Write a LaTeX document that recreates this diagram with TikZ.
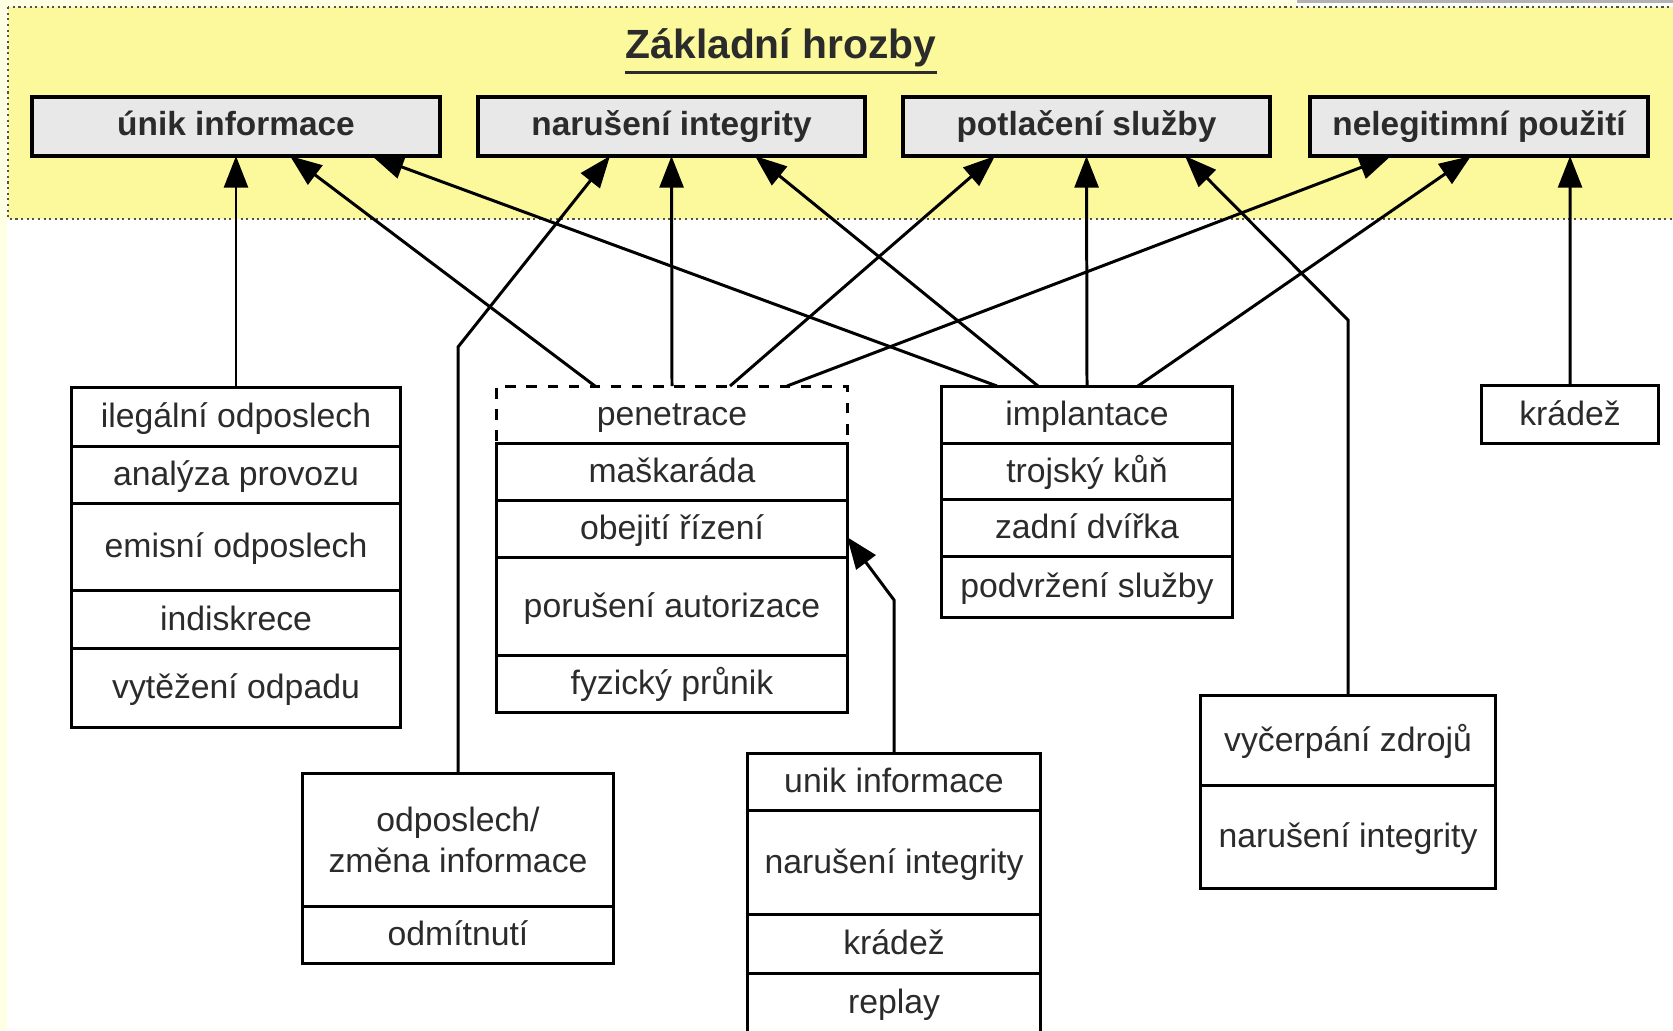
\documentclass[tikz,border=0pt]{standalone}
\usepackage{fontspec}
\setmainfont{Liberation Sans}
\usetikzlibrary{arrows.meta,positioning}
\definecolor{panel}{HTML}{FCF99C}
\definecolor{panelrim}{HTML}{505050}
\definecolor{hdr}{HTML}{E8E8E8}
\definecolor{ink}{HTML}{2B2B2B}
\definecolor{margin}{HTML}{FFFFE4}

\begin{document}
\begin{tikzpicture}[x=0.01cm,y=-0.01cm,
  topbox/.style={draw,line width=1.1pt,fill=hdr,minimum height=0.59cm,inner sep=0pt,outer sep=0pt,
    text height=7pt,text depth=2pt,font=\fontsize{9.5}{11}\selectfont\bfseries,text=ink},
  cell/.style={draw,line width=0.85pt,fill=white,inner sep=0pt,outer sep=0pt,
    text height=8.6pt,text depth=2.2pt,font=\fontsize{9.6}{11.6}\selectfont,text=ink,align=center},
  arr/.style={line width=0.85pt,-{Triangle[length=9pt,width=6.8pt]}}]
\useasboundingbox (0,0) rectangle (1673,1030);
% page edges
\fill[margin] (0,0) rectangle (7,1030);
\fill[margin] (0,0) rectangle (1297,7);
\fill[gray!60] (1297,0) rectangle (1673,3);
% yellow panel with the basic threats
\draw[panelrim,densely dotted,line width=0.6pt,fill=panel] (8,7) rectangle (1690,219);
\node[font=\fontsize{11.6}{14}\selectfont\bfseries,text=ink,inner sep=0pt] (title) at (781,48) {Základní hrozby};
\draw[ink,line width=0.9pt] ([yshift=-1.2pt]title.south west) -- ([yshift=-1.2pt]title.south east);
\node[topbox,minimum width=4.08cm] (unik) at (236,126.5) {únik informace};
\node[topbox,minimum width=3.87cm] (narus) at (671.5,126.5) {narušení integrity};
\node[topbox,minimum width=3.67cm] (potl) at (1086.5,126.5) {potlačení služby};
\node[topbox,minimum width=3.38cm] (neleg) at (1479,126.5) {nelegitimní použití};

% eavesdropping stack
\node[cell,minimum width=3.28cm,minimum height=0.59cm,anchor=north] (odp1) at (236,387) {ilegální odposlech};
\node[cell,minimum width=3.28cm,minimum height=0.57cm,below=0pt of odp1] (odp2) {analýza provozu};
\node[cell,minimum width=3.28cm,minimum height=0.87cm,below=0pt of odp2] (odp3) {emisní odposlech};
\node[cell,minimum width=3.28cm,minimum height=0.58cm,below=0pt of odp3] (odp4) {indiskrece};
\node[cell,minimum width=3.28cm,minimum height=0.79cm,below=0pt of odp4] (odp5) {vytěžení odpadu};

% penetration stack
\node[cell,dashed,minimum width=3.50cm,minimum height=0.57cm,anchor=north] (pen1) at (672,386) {penetrace};
\node[cell,minimum width=3.50cm,minimum height=0.57cm,below=0pt of pen1] (pen2) {maškaráda};
\node[cell,minimum width=3.50cm,minimum height=0.57cm,below=0pt of pen2] (pen3) {obejití řízení};
\node[cell,minimum width=3.50cm,minimum height=0.98cm,below=0pt of pen3] (pen4) {porušení autorizace};
\node[cell,minimum width=3.50cm,minimum height=0.57cm,below=0pt of pen4] (pen5) {fyzický průnik};

% implant stack
\node[cell,minimum width=2.90cm,minimum height=0.57cm,anchor=north] (imp1) at (1087,386) {implantace};
\node[cell,minimum width=2.90cm,minimum height=0.56cm,below=0pt of imp1] (imp2) {trojský kůň};
\node[cell,minimum width=2.90cm,minimum height=0.57cm,below=0pt of imp2] (imp3) {zadní dvířka};
\node[cell,minimum width=2.90cm,minimum height=0.61cm,below=0pt of imp3] (imp4) {podvržení služby};

\node[cell,minimum width=1.76cm,minimum height=0.58cm,anchor=north] (kra) at (1570,385) {krádež};

% lower stacks
\node[cell,minimum width=3.10cm,minimum height=1.33cm,text height=,text depth=,anchor=north] (ods1) at (458,773) {odposlech/\\změna informace};
\node[cell,minimum width=3.10cm,minimum height=0.57cm,below=0pt of ods1] (ods2) {odmítnutí};

\node[cell,minimum width=2.92cm,minimum height=0.57cm,anchor=north] (uni1) at (894,753) {unik informace};
\node[cell,minimum width=2.92cm,minimum height=1.04cm,below=0pt of uni1] (uni2) {narušení integrity};
\node[cell,minimum width=2.92cm,minimum height=0.59cm,below=0pt of uni2] (uni3) {krádež};
\node[cell,minimum width=2.92cm,minimum height=0.59cm,below=0pt of uni3] (uni4) {replay};

\node[cell,minimum width=2.95cm,minimum height=0.90cm,anchor=north] (vyc1) at (1348,695) {vyčerpání zdrojů};
\node[cell,minimum width=2.95cm,minimum height=1.03cm,below=0pt of vyc1] (vyc2) {narušení integrity};

% connectors
\coordinate (odsbend) at (458,347);
\coordinate (vycbend) at (1348,320);
\coordinate (unibend) at (894,600);
\draw[arr] (odp1.north) -- (unik.south);
\draw[arr] ([xshift=-0.77cm]pen1.north) -- ([xshift=0.54cm]unik.south);
\draw[arr] ([xshift=-0.90cm]imp1.north) -- ([xshift=1.36cm]unik.south);
\draw[arr] (pen1.north) -- (narus.south);
\draw[arr] (ods1.north) -- (odsbend) -- ([xshift=-0.615cm]narus.south);
\draw[arr] ([xshift=-0.49cm]imp1.north) -- ([xshift=0.835cm]narus.south);
\draw[arr] ([xshift=0.58cm]pen1.north) -- ([xshift=-0.915cm]potl.south);
\draw[arr] (imp1.north) -- (potl.south);
\draw[arr] (vyc1.north) -- (vycbend) -- ([xshift=0.985cm]potl.south);
\draw[arr] ([xshift=1.15cm]pen1.north) -- ([xshift=-0.88cm]neleg.south);
\draw[arr] ([xshift=0.51cm]imp1.north) -- ([xshift=-0.08cm]neleg.south);
\draw[arr] (kra.north) -- ([xshift=0.91cm]neleg.south);
\draw[arr] (uni1.north) -- (unibend) -- ([yshift=-0.085cm]pen3.east);
\end{tikzpicture}
\end{document}
